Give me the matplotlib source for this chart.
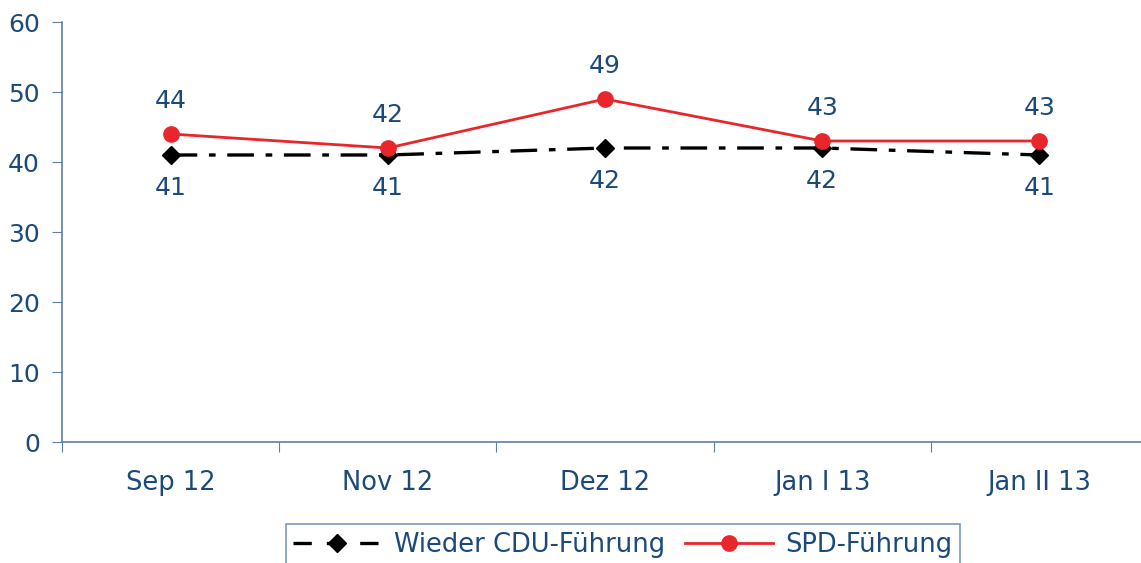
import matplotlib
matplotlib.use("Agg")
import matplotlib.pyplot as plt
from matplotlib.lines import Line2D

plt.rcParams["font.family"] = ["DejaVu Sans"]

categories = ["Sep 12", "Nov 12", "Dez 12", "Jan I 13", "Jan II 13"]
cdu = [41, 41, 42, 42, 41]
spd = [44, 42, 49, 43, 43]
y_ticks = [0, 10, 20, 30, 40, 50, 60]
series_names = ["Wieder CDU-Führung", "SPD-Führung"]

txt = "#1B4A7A"
spine = "#5B7FA6"
red = "#E8262B"
fs = 18

fig = plt.figure(figsize=(11.41, 5.63), dpi=100)
ax = fig.add_axes([62/1141, 1-442/563, (1148-62)/1141, (442-22)/563])

x = list(range(len(categories)))
ax.plot(x, cdu, color="black", lw=2.4, dashes=[8, 3.5, 2, 3.5], marker="D", ms=9,
        markerfacecolor="black", markeredgecolor="black")
ax.plot(x, spd, color=red, lw=2, marker="o", ms=11,
        markerfacecolor=red, markeredgecolor=red)

for xi, v in zip(x, cdu):
    ax.annotate(str(v), (xi, v), xytext=(0, -24), textcoords="offset points",
                ha="center", va="center", fontsize=fs, color=txt)
for xi, v in zip(x, spd):
    ax.annotate(str(v), (xi, v), xytext=(0, 23.5), textcoords="offset points",
                ha="center", va="center", fontsize=fs, color=txt)

ax.set_xlim(-0.5, len(categories) - 0.5)
ax.set_ylim(0, 60)
ax.set_yticks(y_ticks)
ax.set_yticklabels([str(t) for t in y_ticks], fontsize=fs, color=txt)
ax.set_xticks([i - 0.5 for i in range(len(categories) + 1)])
ax.set_xticklabels([])
ax.set_xticks(x, minor=True)
ax.set_xticklabels(categories, minor=True, fontsize=18.5, color=txt)
ax.tick_params(axis="x", which="minor", length=0, pad=20)
ax.tick_params(axis="x", which="major", length=7, color=spine, direction="out")
ax.tick_params(axis="y", length=7, color=spine, direction="out", pad=9)
for s in ["top", "right"]:
    ax.spines[s].set_visible(False)
for s in ["left", "bottom"]:
    ax.spines[s].set_color(spine)
    ax.spines[s].set_linewidth(1.2)

h1 = Line2D([], [], color="black", lw=2.4, dashes=[5.5, 4.5], marker="D", ms=9,
            markerfacecolor="black", markeredgecolor="black")
h2 = Line2D([], [], color=red, lw=2, marker="o", ms=11,
            markerfacecolor=red, markeredgecolor=red)
leg = fig.legend([h1, h2], series_names, loc="upper center",
                 bbox_to_anchor=(623/1141, 1-524/563),
                 ncol=2, frameon=True, fancybox=False, fontsize=18.5, handlelength=3.4,
                 columnspacing=0.8, handletextpad=0.5, borderpad=0.3, borderaxespad=0)
leg.get_frame().set_edgecolor(spine)
leg.get_frame().set_linewidth(1.2)
for t in leg.get_texts():
    t.set_color(txt)

fig.savefig("out.png", dpi=100)
